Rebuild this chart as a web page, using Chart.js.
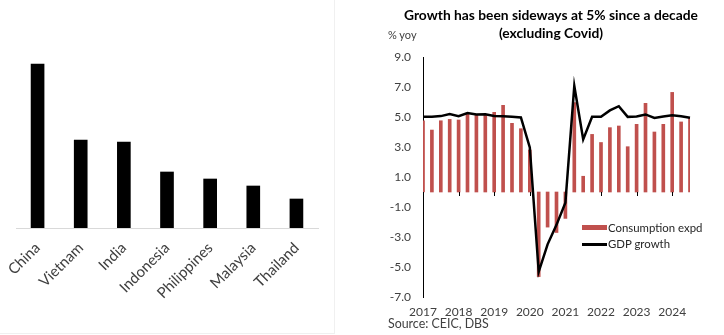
<!DOCTYPE html>
<html>
<head>
<meta charset="utf-8">
<script src="https://cdn.jsdelivr.net/npm/chart.js@4.4.1/dist/chart.umd.min.js"></script>
<style>
    body { margin: 0; width: 724px; height: 335px; background: #fff; position: relative; overflow: hidden; font-family: Lato, "Open Sans", sans-serif; }
    .box { position: absolute; }
    #left-wrap { left: 0; top: 0; width: 335px; height: 335px; }
    #left-frame { left: 0; top: 0; width: 334px; height: 333px; border-right: 1px solid #f0f0f0; border-bottom: 1px solid #f0f0f0; }
    #right-wrap { left: 360px; top: 0; width: 364px; height: 335px; }
    .title { left: 395px; width: 312px; text-align: center; font-weight: bold; font-size: 13.8px; color: #000; white-space: nowrap; }
    .note { font-size: 11px; color: #404040; white-space: nowrap; }
    .legend-text { font-size: 11.4px; color: #262626; white-space: nowrap; }
</style>
</head>
<body>
<div class="box" id="left-frame"></div>
<div class="box" id="left-wrap"><canvas id="country-chart"></canvas></div>
<div class="box" id="right-wrap"><canvas id="growth-chart"></canvas></div>

<div class="box title" style="top:6px;">Growth has been sideways at 5% since a decade</div>
<div class="box title" style="top:24px;">(excluding Covid)</div>
<div class="box note" style="left:388px; top:28px;">% yoy</div>
<div class="box note" style="left:388px; top:316px; font-size:12.4px;">Source: CEIC, DBS</div>

<div class="box" style="left:582px; top:225px; width:25px; height:5px; background:#C0504D;"></div>
<div class="box legend-text" style="left:608px; top:221px;">Consumption expd</div>
<div class="box" style="left:582px; top:243px; width:25px; height:2.5px; background:#000;"></div>
<div class="box legend-text" style="left:608px; top:237px;">GDP growth</div>

<script>
// Left panel: country comparison
const countries = ['China', 'Vietnam', 'India', 'Indonesia', 'Philippines', 'Malaysia', 'Thailand'];
const countryValues = [16.4, 8.8, 8.6, 5.6, 4.9, 4.2, 2.9];

// Right panel: quarterly growth, % yoy
const quarters = [
    '1Q17', '2Q17', '3Q17', '4Q17',
    '1Q18', '2Q18', '3Q18', '4Q18',
    '1Q19', '2Q19', '3Q19', '4Q19',
    '1Q20', '2Q20', '3Q20', '4Q20',
    '1Q21', '2Q21', '3Q21', '4Q21',
    '1Q22', '2Q22', '3Q22', '4Q22',
    '1Q23', '2Q23', '3Q23', '4Q23',
    '1Q24', '2Q24', '3Q24'
];
const consumption = [
    4.75, 4.13, 4.75, 4.84,
    4.80, 5.24, 5.13, 5.13,
    5.31, 5.78, 4.58, 4.22,
    2.80, -5.64, -2.34, -2.70,
    -1.76, 5.96, 1.05, 3.84,
    3.30, 4.29, 4.40, 3.02,
    4.51, 5.91, 4.00, 4.51,
    6.64, 4.67, 4.95
];
const gdpGrowth = [
    5.01, 5.01, 5.06, 5.19,
    5.06, 5.27, 5.17, 5.18,
    5.07, 5.05, 5.02, 4.97,
    2.97, -5.32, -3.49, -2.19,
    -0.71, 7.07, 3.51, 5.02,
    5.01, 5.44, 5.72, 5.01,
    5.04, 5.17, 4.94, 5.04,
    5.11, 5.05, 4.95
];
const yearTicks = ['2017', '2018', '2019', '2020', '2021', '2022', '2023', '2024'];

const textGrey = '#404040';
const barRed = '#C0504D';

new Chart(document.getElementById('country-chart'), {
    type: 'bar',
    data: {
        labels: countries,
        datasets: [{
            data: countryValues,
            backgroundColor: '#000',
            barThickness: 13
        }]
    },
    options: {
        responsive: true,
        maintainAspectRatio: false,
        animation: false,
        layout: { padding: { top: 28, left: 16, right: 17, bottom: 0 } },
        plugins: { legend: { display: false }, tooltip: { enabled: false } },
        scales: {
            x: {
                grid: { display: false, drawTicks: false },
                border: { display: true, color: '#d9d9d9', width: 1 },
                ticks: {
                    color: textGrey,
                    font: { family: 'Lato', size: 15 },
                    minRotation: 45,
                    maxRotation: 45,
                    padding: 11
                },
                afterFit: (scale) => {
                    scale.height = 107;
                    scale.paddingLeft = 0;
                    scale.paddingRight = 0;
                }
            },
            y: { display: false, min: 0, max: 20 }
        }
    }
});

// Short tick marks below the zero line at each year start
const yearMarks = {
    id: 'yearMarks',
    afterDatasetsDraw(chart) {
        const { ctx, scales: { x, y } } = chart;
        const y0 = y.getPixelForValue(0);
        ctx.save();
        ctx.strokeStyle = '#000';
        ctx.lineWidth = 1;
        quarters.forEach((q, i) => {
            if (i % 4 !== 0) return;
            const px = Math.round(x.getPixelForValue(i)) + 0.5;
            ctx.beginPath();
            ctx.moveTo(px, y0);
            ctx.lineTo(px, y0 + 4);
            ctx.stroke();
        });
        ctx.restore();
    }
};

new Chart(document.getElementById('growth-chart'), {
    data: {
        labels: quarters,
        datasets: [
            {
                type: 'line',
                label: 'GDP growth',
                data: gdpGrowth,
                borderColor: '#000',
                borderWidth: 2.5,
                pointRadius: 0,
                tension: 0,
                order: 0
            },
            {
                type: 'bar',
                label: 'Consumption expd',
                data: consumption,
                backgroundColor: barRed,
                barThickness: 3,
                order: 1
            }
        ]
    },
    options: {
        responsive: true,
        maintainAspectRatio: false,
        animation: false,
        layout: { padding: { top: 57, left: 0, right: 34, bottom: 0 } },
        plugins: { legend: { display: false }, tooltip: { enabled: false } },
        scales: {
            x: {
                offset: false,
                grid: { display: false, drawTicks: false },
                border: { display: false },
                ticks: {
                    autoSkip: false,
                    maxRotation: 0,
                    color: textGrey,
                    font: { family: 'Lato', size: 12 },
                    padding: 8,
                    callback: (value, index) => index % 4 === 0 ? yearTicks[index / 4] : ''
                },
                afterFit: (scale) => {
                    scale.height = 38;
                }
            },
            y: {
                min: -7,
                max: 9,
                border: { display: true, color: '#000', width: 1 },
                grid: {
                    drawTicks: false,
                    color: (ctx) => ctx.tick && ctx.tick.value === 0 ? '#000' : 'rgba(0,0,0,0)'
                },
                ticks: {
                    stepSize: 2,
                    color: textGrey,
                    font: { family: 'Lato', size: 12 },
                    padding: 12,
                    callback: (value) => value.toFixed(1)
                },
                afterFit: (scale) => {
                    scale.width = 63;
                }
            }
        }
    },
    plugins: [yearMarks]
});
</script>
</body>
</html>
